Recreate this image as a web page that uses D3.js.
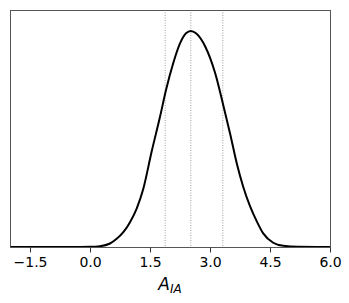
<!DOCTYPE html>
<html>
<head>
<meta charset="utf-8">
<script src="https://cdn.jsdelivr.net/npm/d3@7"></script>
<style>
  body { margin: 0; background: #fff; }
  svg { display: block; font-family: "DejaVu Sans", sans-serif; }
</style>
</head>
<body>
<svg id="chart"></svg>
<script>
// posterior curve
var xs = [-2.0, -0.5, 0.0, 0.25, 0.5, 0.667, 0.833, 1.0, 1.167, 1.333, 1.54, 1.75, 1.90, 2.08, 2.25, 2.40, 2.52, 2.65, 2.88, 3.13, 3.32, 3.50, 3.67, 3.83, 4.0, 4.17, 4.33, 4.58, 4.83, 5.2, 6.0];
var ys = [0, 0, 0.0005, 0.002, 0.009, 0.021, 0.038, 0.064, 0.099, 0.150, 0.245, 0.335, 0.404, 0.473, 0.524, 0.550, 0.556, 0.550, 0.516, 0.447, 0.370, 0.293, 0.215, 0.155, 0.105, 0.066, 0.035, 0.011, 0.003, 0.0005, 0];
var vlines = [1.88, 2.52, 3.32];
var tickVals = [-1.5, 0.0, 1.5, 3.0, 4.5, 6.0];

var W = 349, H = 303;
var margin = { top: 10, right: 19, bottom: 56, left: 10 };
var width = W - margin.left - margin.right,
    height = H - margin.top - margin.bottom;

var svg = d3.select("#chart")
            .attr("width", W)
            .attr("height", H)
            .append("g")
            .attr("transform", "translate(" + margin.left + "," + margin.top + ")");

var x = d3.scaleLinear()
          .domain([-2, 6])
          .range([0, width]);

var y = d3.scaleLinear()
          .domain([0, 0.61])
          .range([height, 0]);

var data = xs.map(function (d, i) { return { x: d, y: ys[i] }; });

// dotted lines
svg.selectAll(".vl")
   .data(vlines)
   .enter()
   .append("line")
   .attr("class", "vl")
   .attr("x1", function (d) { return x(d); })
   .attr("x2", function (d) { return x(d); })
   .attr("y1", 0)
   .attr("y2", height)
   .attr("stroke", "#888")
   .attr("stroke-width", 0.8)
   .attr("stroke-dasharray", "1,1.5");

var line = d3.line()
             .x(function (d) { return x(d.x); })
             .y(function (d) { return y(d.y); })
             .curve(d3.curveMonotoneX);

svg.append("path")
   .datum(data)
   .attr("fill", "none")
   .attr("stroke", "#000")
   .attr("stroke-width", 2)
   .attr("d", line);

// frame
svg.append("rect")
   .attr("x", 0.5)
   .attr("y", 0.5)
   .attr("width", width)
   .attr("height", height)
   .attr("fill", "none")
   .attr("stroke", "#555")
   .attr("stroke-width", 1);

var xAxis = d3.axisBottom(x)
              .tickValues(tickVals)
              .tickSize(5)
              .tickPadding(5)
              .tickFormat(d3.format(".1f"));

var gx = svg.append("g")
            .attr("transform", "translate(0," + (height + 0.5) + ")")
            .call(xAxis);
gx.select(".domain").remove();
gx.selectAll("line").attr("stroke", "#333");
gx.selectAll("text")
  .attr("font-size", "14px")
  .attr("font-family", "DejaVu Sans, sans-serif")
  .attr("fill", "#000")
  .text(function (d) { return d3.format(".1f")(d).replace("-", "\u2212"); });

var lab = svg.append("text")
             .attr("x", width / 2)
             .attr("y", 280)
             .attr("text-anchor", "middle")
             .attr("font-style", "italic")
             .attr("font-size", "17px")
             .attr("fill", "#000");
lab.append("tspan").text("A");
lab.append("tspan")
   .attr("font-size", "12px")
   .attr("dy", "3")
   .text("IA");
</script>
</body>
</html>
